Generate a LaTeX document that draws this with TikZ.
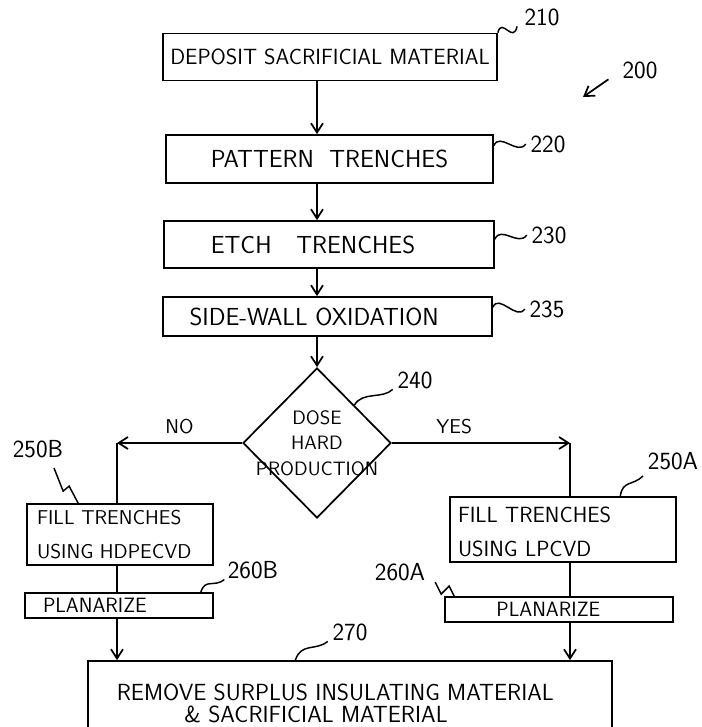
\documentclass[tikz,border=0pt]{standalone}
\usepackage{fontspec}
\usetikzlibrary{shapes.geometric,arrows.meta}

\begin{document}
\begin{tikzpicture}[x=0.75pt,y=-0.75pt,line width=1.3pt,
box/.style={draw,rectangle,inner sep=0pt,align=center},
tag/.style={inner sep=0pt,font=\sffamily\fontsize{18.5}{18.5}\selectfont},
lead/.style={line width=1.1pt},
flow/.style={-{Straight Barb[length=7pt,width=9pt]}}]
\useasboundingbox (0,0) rectangle (702,727);

% process steps
\node (dep) [box,minimum width=250.5pt,minimum height=35.25pt,
    font=\sffamily\fontsize{16.5}{19}\selectfont] at (330,57) {DEPOSIT SACRIFICIAL MATERIAL};
\node (pat) [box,minimum width=245.25pt,minimum height=36pt,
    font=\sffamily\fontsize{18.5}{22}\selectfont] at (329.5,159) {PATTERN\ \ TRENCHES};
\node (etch) [box,minimum width=247.5pt,minimum height=35.25pt,
    font=\sffamily\fontsize{18.5}{22}\selectfont] at (329,244.5) {ETCH\quad TRENCHES\hspace*{24pt}};
\node (side) [box,minimum width=246.75pt,minimum height=29.25pt,
    font=\sffamily\fontsize{18.5}{22}\selectfont] at (327.5,316.5) {SIDE-WALL OXIDATION\hspace*{20pt}};
\node (dia) [diamond,draw,inner sep=0pt,minimum width=111pt,minimum height=112.5pt,
    label={[font=\sffamily\fontsize{14.5}{19}\selectfont,align=center]center:{DOSE\\HARD\\PRODUCTION}}]
    at (317,443) {};
\node (fillB) [box,minimum width=139.5pt,minimum height=45.75pt,text width=124.5pt,align=left,
    font=\sffamily\fontsize{15}{25}\selectfont] at (120,534.5) {FILL TRENCHES\\USING HDPECVD};
\node (planB) [box,minimum width=141pt,minimum height=18.75pt,text width=114pt,align=left,
    font=\sffamily\fontsize{15.5}{16}\selectfont] at (119,605.5) {PLANARIZE};
\node (fillA) [box,minimum width=169.5pt,minimum height=48.75pt,text width=157.5pt,align=left,
    font=\sffamily\fontsize{16.5}{25.5}\selectfont] at (563,529.5) {\rule{0pt}{16pt}FILL TRENCHES\\USING LPCVD};
\node (planA) [box,minimum width=171pt,minimum height=18.75pt,
    font=\sffamily\fontsize{15.5}{16}\selectfont] at (559,609.5) {PLANARIZE\hspace*{16pt}};
\node (remove) [box,minimum width=393pt,minimum height=63pt,
    font=\sffamily\fontsize{17.5}{16.5}\selectfont] at (350,703)
    {REMOVE SURPLUS INSULATING MATERIAL\hspace*{22pt}\\\& SACRIFICIAL MATERIAL\hspace*{51pt}};

% reference numerals
\node (l200) [tag] at (640,70) {200};
\node (l210) [tag] at (542,17) {210};
\node (l220) [tag] at (548,144) {220};
\node (l230) [tag] at (549,235) {230};
\node (l235) [tag] at (547,309) {235};
\node (l240) [tag] at (415,380) {240};
\node (l250b) [tag] at (38,449) {250B};
\node (l250a) [tag] at (673,461) {250A};
\node (l260b) [tag] at (253,570) {260B};
\node (l260a) [tag] at (400,572) {260A};
\node (l270) [tag] at (350,632) {270};

\coordinate (ljoin) at (117,443);
\coordinate (rjoin) at (570,443);
\coordinate (c200) at (583,97);

% flow
\draw[flow] (dep.south -| dia.north) -- (pat.north -| dia.north);
\draw[flow] (pat.south -| dia.north) -- (etch.north -| dia.north);
\draw[flow] (etch.south -| dia.north) -- (side.north -| dia.north);
\draw[flow] (side.south -| dia.north) -- (dia.north);
\draw[flow] (dia.west) -- node[above=3pt,font=\sffamily\fontsize{15}{15}\selectfont] {NO} (ljoin);
\draw (ljoin) -- (ljoin |- fillB.north);
\draw[flow] (dia.east) -- node[above=3pt,pos=.35,font=\sffamily\fontsize{15}{15}\selectfont] {YES} (rjoin);
\draw (rjoin) -- (rjoin |- fillA.north);
\draw (fillB.south -| ljoin) -- (planB.north -| ljoin);
\draw[flow] (planB.south -| ljoin) -- (remove.north -| ljoin);
\draw (fillA.south -| rjoin) -- (planA.north -| rjoin);
\draw[flow] (planA.south -| rjoin) -- (remove.north -| rjoin);
\draw[flow] ([xshift=-10pt]l200.south west) -- (c200);

% lead lines
\draw[lead] (dep.north east) .. controls +(4,-16) and +(-4,18) .. ([xshift=-5pt]l210.south west);
\draw[lead] ([yshift=10pt]pat.east) .. controls +(6,-14) and +(-8,12) .. ([xshift=-3pt]l220.west);
\draw[lead] ([yshift=4pt]etch.east) .. controls +(6,-14) and +(-8,12) .. ([xshift=-3pt]l230.west);
\draw[lead] ([yshift=7pt]side.east) .. controls +(6,-14) and +(-8,12) .. ([xshift=-3pt]l235.west);
\draw[lead] (dia.north east) .. controls +(8,-14) and +(-10,10) .. ([xshift=-3pt]l240.south west);
\draw[lead] ([xshift=39pt]fillB.north west) -- ++(-9,-17) -- ++(-6,5) -- ([xshift=12pt,yshift=-7pt]l250b.south);
\draw[lead] ([xshift=43pt]fillA.north) .. controls +(2,-16) and +(-10,10) .. ([xshift=-3pt,yshift=-4pt]l250a.south west);
\draw[lead] ([xshift=-9.75pt]planB.north east) .. controls +(4,-14) and +(-10,8) .. ([xshift=-2pt]l260b.south west);
\draw[lead] ([xshift=7.5pt]planA.north west) -- ++(-5,-10) -- ++(-8,8) -- ++(-6,-12);
\draw[lead] ([xshift=-41pt]remove.north) .. controls +(6,-18) and +(-12,10) .. ([xshift=-3pt]l270.south west);
\end{tikzpicture}
\end{document}
